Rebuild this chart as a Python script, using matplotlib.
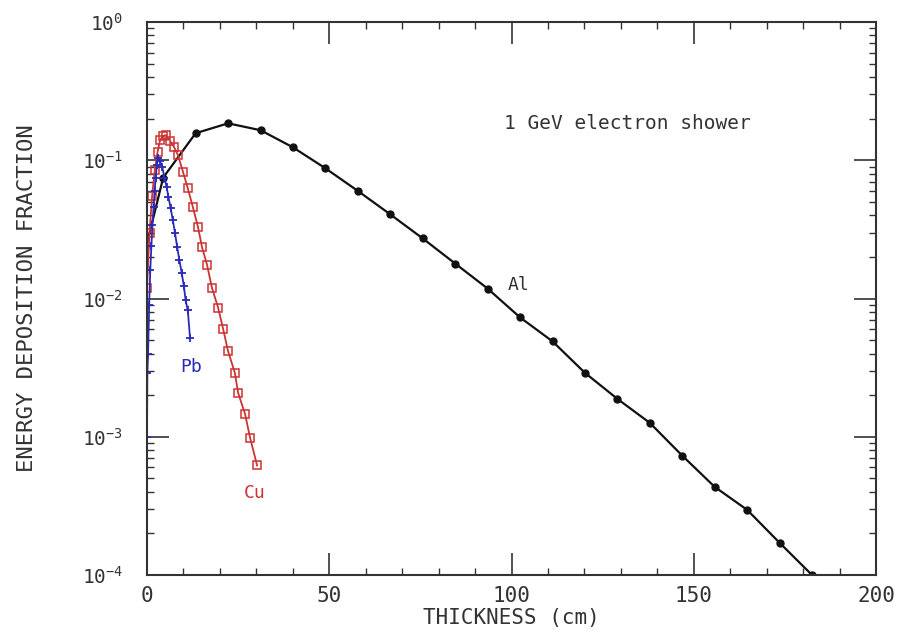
import matplotlib.pyplot as plt
from matplotlib.ticker import LogLocator, MultipleLocator, NullFormatter

plt.rcParams['font.family'] = 'DejaVu Sans Mono'
plt.rcParams['mathtext.fontset'] = 'custom'
plt.rcParams['mathtext.rm'] = 'DejaVu Sans Mono'
plt.rcParams['mathtext.default'] = 'regular'

# Al (curva negra, marcadores cada ~X0 = 8.9 cm)
al_x = [0.0, 4.45, 13.35, 22.25, 31.15, 40.05, 48.95, 57.85, 66.75, 75.65, 84.55,
        93.45, 102.35, 111.25, 120.15, 129.05, 137.95, 146.85, 155.75, 164.65,
        173.55, 182.45]
al_y = [0.025, 0.075, 0.157, 0.185, 0.165, 0.124, 0.0875, 0.0600, 0.0406, 0.0272,
        0.0179, 0.0118, 0.0073, 0.0049, 0.0029, 0.00188, 0.00126, 0.00073,
        0.000434, 0.000296, 0.000171, 0.0001]

# Cu (cuadrados rojos)
cu_x = [0.0, 0.7, 1.4, 2.15, 2.9, 3.6, 4.4, 5.2, 6.3, 7.4, 8.5, 9.9, 11.2, 12.6,
        14.0, 15.1, 16.5, 17.8, 19.5, 20.9, 22.2, 24.1, 25.0, 26.9, 28.3, 30.2]
cu_y = [0.012, 0.03, 0.055, 0.085, 0.115, 0.14, 0.150, 0.152, 0.138, 0.125, 0.109,
        0.082, 0.0626, 0.0457, 0.0328, 0.0235, 0.0174, 0.0120, 0.0086, 0.0060,
        0.0042, 0.0029, 0.00208, 0.00146, 0.00098, 0.00062]

# Pb (cruces azules)
pb_x = [0.0, 0.1, 0.3, 0.6, 0.9, 1.2, 1.5, 1.8, 2.1, 2.4, 2.7, 3.0, 3.6, 4.2, 4.8,
        5.4, 5.9, 6.5, 7.1, 7.7, 8.3, 8.9, 9.5, 10.1, 10.6, 11.2, 11.8]
pb_y = [0.001, 0.0029, 0.004, 0.009, 0.016, 0.024, 0.034, 0.046, 0.060, 0.075,
        0.092, 0.103, 0.098, 0.089, 0.075, 0.0637, 0.054, 0.0449, 0.0367, 0.0296,
        0.0234, 0.0189, 0.0154, 0.0124, 0.0097, 0.0082, 0.0052]

color_al = '#111111'
color_cu = '#cc3333'
color_pb = '#2a2ab8'
gris = '#333333'

fig = plt.figure(figsize=(9.13, 6.31), dpi=100)
ax = fig.add_axes([0.161, 0.0887, 0.7985, 0.8764])

ax.plot(al_x, al_y, '-', color=color_al, lw=1.6, marker='o', ms=5,
        markevery=list(range(1, len(al_x))))
ax.plot(cu_x, cu_y, '-', color=color_cu, lw=1.3, marker='s', ms=6,
        mfc='none', mec=color_cu, mew=1.1)
ax.plot(pb_x, pb_y, '-', color=color_pb, lw=1.3, marker='+', ms=6, mew=1.3)

ax.set_yscale('log')
ax.set_xlim(0, 200)
ax.set_ylim(1e-4, 1)

ax.xaxis.set_major_locator(MultipleLocator(50))
ax.xaxis.set_minor_locator(MultipleLocator(10))
ax.yaxis.set_major_locator(LogLocator(base=10, numticks=10))
ax.yaxis.set_minor_locator(LogLocator(base=10, subs=range(2, 10), numticks=10))
ax.yaxis.set_minor_formatter(NullFormatter())

ax.tick_params(which='both', direction='in', top=True, right=True,
               colors=gris, labelcolor=gris, labelsize=15)
ax.tick_params(which='major', length=16, width=1.2)
ax.tick_params(which='minor', length=5, width=1.0)
ax.tick_params(axis='x', which='major', pad=8)
ax.tick_params(axis='y', which='major', pad=17, labelsize=14)
for s in ax.spines.values():
    s.set_color(gris)
    s.set_linewidth(1.5)

ax.set_xlabel('THICKNESS (cm)', fontsize=15, color=gris, labelpad=1)
ax.set_ylabel('ENERGY DEPOSITION FRACTION', fontsize=16, color=gris)
ax.yaxis.set_label_coords(-0.151, 0.5)

ax.text(98, 0.185, '1 GeV electron shower', fontsize=14, color=gris,
        ha='left', va='center')
ax.text(99, 0.0125, 'Al', fontsize=13, color=gris, ha='left', va='center')
ax.text(9, 0.0032, 'Pb', fontsize=13, color=color_pb, ha='left', va='center')
ax.text(26.5, 0.00039, 'Cu', fontsize=13, color=color_cu, ha='left', va='center')

fig.savefig('out.png', dpi=100)
